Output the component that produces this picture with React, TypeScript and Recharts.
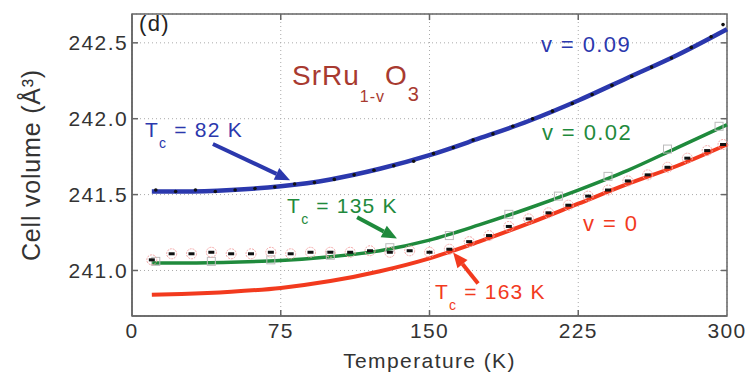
import React from 'react';
import {
  CartesianGrid,
  ComposedChart,
  Label,
  Line,
  ReferenceArea,
  ReferenceDot,
  ReferenceLine,
  Scatter,
  XAxis,
  YAxis,
} from 'recharts';

// fitted curves
const temps = [10, 25, 50, 75, 100, 125, 150, 175, 200, 225, 250, 275, 300];
const fitV009 = [241.52, 241.52, 241.53, 241.555, 241.6, 241.67, 241.76, 241.87, 241.985, 242.12, 242.27, 242.42, 242.59];
const fitV002 = [241.05, 241.05, 241.055, 241.065, 241.09, 241.13, 241.2, 241.3, 241.41, 241.53, 241.66, 241.81, 241.96];
const fitV0 = [240.84, 240.845, 240.86, 240.885, 240.93, 240.995, 241.08, 241.19, 241.31, 241.44, 241.57, 241.69, 241.83];

// measured points
const obsBlueT = [12, 22, 32, 42, 52, 62, 72, 82, 92, 102, 112, 122, 132, 142, 152, 162, 172, 182, 192, 202, 212, 222, 232, 242, 252, 262, 272, 282, 292, 298];
const obsBlue = [241.53, 241.52, 241.53, 241.52, 241.53, 241.54, 241.55, 241.57, 241.58, 241.6, 241.63, 241.66, 241.69, 241.72, 241.77, 241.81, 241.86, 241.9, 241.95, 242.0, 242.05, 242.1, 242.16, 242.22, 242.28, 242.34, 242.4, 242.47, 242.54, 242.62];
const obsV0T = [10, 20, 30, 40, 50, 60, 70, 80, 90, 100, 110, 120, 130, 140, 150, 160, 170, 180, 190, 200, 210, 220, 230, 240, 250, 260, 270, 280, 290, 298];
const obsV0 = [241.07, 241.11, 241.11, 241.12, 241.11, 241.11, 241.12, 241.11, 241.12, 241.12, 241.12, 241.13, 241.12, 241.13, 241.12, 241.14, 241.19, 241.23, 241.29, 241.34, 241.38, 241.43, 241.49, 241.53, 241.59, 241.63, 241.68, 241.74, 241.79, 241.83];
const obsGreenT = [12, 40, 70, 100, 130, 160, 190, 215, 240, 270, 296];
const obsGreen = [241.06, 241.06, 241.07, 241.1, 241.15, 241.23, 241.37, 241.49, 241.62, 241.8, 241.95];

const xTicks = [0, 75, 150, 225, 300];
const yTicks = [241.0, 241.5, 242.0, 242.5];
const X_DOMAIN: [number, number] = [0, 300];
const Y_DOMAIN: [number, number] = [240.7, 242.69];

const FONT = '"Liberation Sans", Arial, Helvetica, sans-serif';
const BLUE = '#2b38ad';
const GREEN = '#1f8a3c';
const RED = '#f23a1e';
const DARKRED = '#a83a30';
const AXIS = '#666';

const fitData = temps.map((t, i) => ({ t, v009: fitV009[i], v002: fitV002[i], v0: fitV0[i] }));
const blueData = obsBlueT.map((t, i) => ({ t, v: obsBlue[i] }));
const v0Data = obsV0T.map((t, i) => ({ t, v: obsV0[i] }));
const greenData = obsGreenT.map((t, i) => ({ t, v: obsGreen[i] }));

function YTick(props: any) {
  const { x, y, payload } = props;
  return (
    <g>
      <line x1={x + 4} y1={y} x2={x + 10} y2={y} stroke={AXIS} strokeWidth={1.5} />
      <text x={x} y={y} dy="0.36em" textAnchor="end" fill="#333" fontSize={21} letterSpacing={1.4} fontFamily={FONT}>
        {Number(payload.value).toFixed(1)}
      </text>
    </g>
  );
}

function XTick(props: any) {
  const { x, y, payload } = props;
  return (
    <g>
      {payload.value > 0 && payload.value < 300 && (
        <line x1={x} y1={y - 6} x2={x} y2={y - 12} stroke={AXIS} strokeWidth={1.5} />
      )}
      <text x={x} y={y} dy="0.74em" textAnchor="middle" fill="#333" fontSize={21} letterSpacing={1.4} fontFamily={FONT}>
        {payload.value}
      </text>
    </g>
  );
}

function Arrow(props: any) {
  const { x1, y1, x2, y2, stroke } = props;
  if ([x1, y1, x2, y2].some((v) => typeof v !== 'number')) return null;
  const a = Math.atan2(y2 - y1, x2 - x1);
  const len = 15;
  const half = 6.5;
  const bx = x2 - len * Math.cos(a);
  const by = y2 - len * Math.sin(a);
  const px = -Math.sin(a) * half;
  const py = Math.cos(a) * half;
  return (
    <g>
      <line x1={x1} y1={y1} x2={bx} y2={by} stroke={stroke} strokeWidth={4} />
      <polygon points={`${x2},${y2} ${bx + px},${by + py} ${bx - px},${by - py}`} fill={stroke} />
    </g>
  );
}

const tcLabel = (name: string, color: string) => (p: any) => (
  <text x={p.cx} y={p.cy} fill={color} fontSize={21} letterSpacing={1.2} fontFamily={FONT}>
    <tspan>T</tspan>
    <tspan dy={11} fontSize={14}>c</tspan>
    <tspan dy={-11}>{` = ${name}`}</tspan>
  </text>
);

const plainLabel = (text: string, color: string, size: number) => (p: any) => (
  <text x={p.cx} y={p.cy} fill={color} fontSize={size} letterSpacing={1.4} fontFamily={FONT}>
    {text}
  </text>
);

const formulaLabel = (p: any) => (
  <text x={p.cx} y={p.cy} fill={DARKRED} fontSize={28} letterSpacing={1} fontFamily={FONT}>
    <tspan>SrRu</tspan>
    <tspan dy={17} fontSize={16}>1-v</tspan>
    <tspan dy={-17}>O</tspan>
    <tspan dy={16} fontSize={20}>3</tspan>
  </text>
);

const blueDot = (p: any) => <circle cx={p.cx} cy={p.cy} r={1.8} fill="#111" />;
const v0Dot = (p: any) => (
  <g>
    <circle cx={p.cx} cy={p.cy} r={5} fill="none" stroke="#f3a6a6" strokeWidth={1} strokeDasharray="2 1" />
    <rect x={p.cx - 3} y={p.cy - 1.5} width={6} height={3} fill="#111" />
  </g>
);
const greenSquare = (p: any) => (
  <rect x={p.cx - 4} y={p.cy - 4} width={8} height={8} fill="none" stroke="#bbb" strokeWidth={1} />
);

export default function App() {
  return (
    <div style={{ position: 'absolute', left: 0, top: 0, background: '#fff' }}>
      <ComposedChart
        width={747}
        height={377}
        data={fitData}
        margin={{ top: 14, right: 20, bottom: 0, left: 0 }}
        style={{ fontFamily: FONT }}
      >
        <CartesianGrid stroke="#aaa" strokeDasharray="1 3" />
        <XAxis
          type="number"
          dataKey="t"
          domain={X_DOMAIN}
          ticks={xTicks}
          height={61}
          tickLine={false}
          tickSize={4}
          tickMargin={2}
          tick={<XTick />}
          axisLine={{ stroke: AXIS, strokeWidth: 1.5 }}
        >
          <Label
            content={(p: any) => (
              <text
                x={p.viewBox.x + p.viewBox.width / 2}
                y={p.viewBox.y + 52}
                textAnchor="middle"
                fill="#333"
                fontSize={21}
                letterSpacing={1.4}
                fontFamily={FONT}
              >
                Temperature (K)
              </text>
            )}
          />
        </XAxis>
        <YAxis
          type="number"
          domain={Y_DOMAIN}
          ticks={yTicks}
          width={132}
          allowDataOverflow
          tickLine={false}
          tickSize={4}
          tickMargin={0}
          tick={<YTick />}
          axisLine={{ stroke: AXIS, strokeWidth: 1.5 }}
        >
          <Label
            content={(p: any) => (
              <text
                transform={`translate(${p.viewBox.x + 31}, ${p.viewBox.y + p.viewBox.height / 2}) rotate(-90)`}
                textAnchor="middle"
                dominantBaseline="central"
                fill="#333"
                fontSize={25}
                letterSpacing={0.8}
                fontFamily={FONT}
              >
                Cell volume (Å³)
              </text>
            )}
          />
        </YAxis>

        <ReferenceArea x1={X_DOMAIN[0]} x2={X_DOMAIN[1]} y1={Y_DOMAIN[0]} y2={Y_DOMAIN[1]} fill="none" stroke={AXIS} strokeWidth={1.5} />
        {yTicks.map((v) => (
          <ReferenceLine key={`ry${v}`} segment={[{ x: 300, y: v }, { x: 297, y: v }]} stroke={AXIS} strokeWidth={1.5} />
        ))}
        {xTicks.slice(1, -1).map((t) => (
          <ReferenceLine key={`tx${t}`} segment={[{ x: t, y: Y_DOMAIN[1] }, { x: t, y: Y_DOMAIN[1] - 0.04 }]} stroke={AXIS} strokeWidth={1.5} />
        ))}

        <Scatter data={greenData} dataKey="v" shape={greenSquare} isAnimationActive={false} />
        <Scatter data={v0Data} dataKey="v" shape={v0Dot} isAnimationActive={false} />
        <Line type="monotone" dataKey="v0" stroke={RED} strokeWidth={4} dot={false} isAnimationActive={false} />
        <Line type="monotone" dataKey="v002" stroke={GREEN} strokeWidth={3.5} dot={false} isAnimationActive={false} />
        <Line type="monotone" dataKey="v009" stroke={BLUE} strokeWidth={4.5} dot={false} isAnimationActive={false} />
        <Scatter data={blueData} dataKey="v" shape={blueDot} isAnimationActive={false} />

        <ReferenceLine segment={[{ x: 40.8, y: 241.833 }, { x: 79.7, y: 241.595 }]} stroke={BLUE} shape={Arrow} />
        <ReferenceLine segment={[{ x: 113.5, y: 241.35 }, { x: 133.6, y: 241.21 }]} stroke={GREEN} shape={Arrow} />
        <ReferenceLine segment={[{ x: 174.5, y: 240.914 }, { x: 161.9, y: 241.119 }]} stroke={RED} shape={Arrow} />

        <ReferenceDot x={3.5} y={242.575} r={1} shape={plainLabel('(d)', '#222', 22)} />
        <ReferenceDot x={80.7} y={242.223} r={1} shape={formulaLabel} />
        <ReferenceDot x={206.2} y={242.44} r={1} shape={plainLabel('v = 0.09', BLUE, 22)} />
        <ReferenceDot x={206.7} y={241.86} r={1} shape={plainLabel('v = 0.02', GREEN, 22)} />
        <ReferenceDot x={227.4} y={241.26} r={1} shape={plainLabel('v = 0', RED, 22)} />
        <ReferenceDot x={6.6} y={241.879} r={1} shape={tcLabel('82 K', BLUE)} />
        <ReferenceDot x={78.2} y={241.377} r={1} shape={tcLabel('135 K', GREEN)} />
        <ReferenceDot x={152.8} y={240.815} r={1} shape={tcLabel('163 K', RED)} />
      </ComposedChart>
    </div>
  );
}
